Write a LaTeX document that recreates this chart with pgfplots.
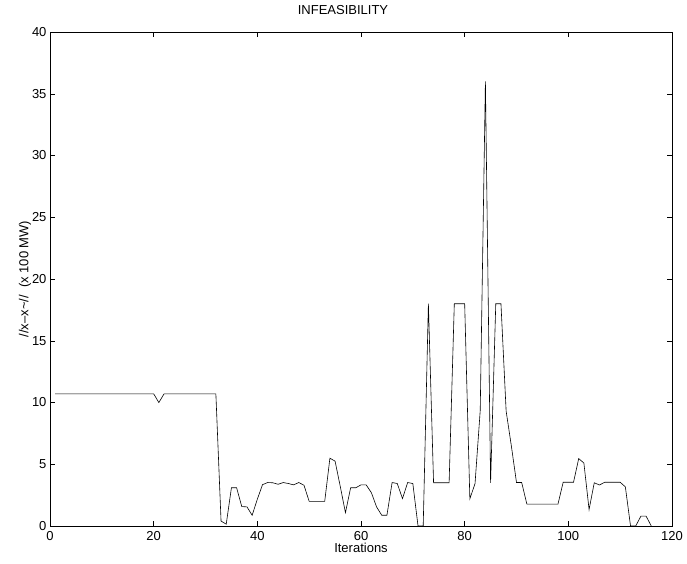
\documentclass[border=0pt]{standalone}
\usepackage{pgfplots}
\pgfplotsset{compat=1.18}
\usepackage{fontspec}
\setmainfont{Liberation Sans}
\begin{document}
\begin{tikzpicture}[x=1pt,y=1pt]
\useasboundingbox (-50,-37) rectangle (637,526);
\begin{axis}[
  at={(0,0)}, anchor=south west,
  scale only axis, width=622pt, height=494pt,
  xmin=0, xmax=120, ymin=0, ymax=40,
  xtick={0,20,...,120}, ytick={0,5,...,40},
  tick align=inside, major tick length=5pt,
  xtick pos=both, ytick pos=both,
  axis line style={line width=0.7pt},
  tick style={line width=0.5pt, black},
  /pgf/number format/assume math mode=true,
  ticklabel style={font=\fontsize{13}{15}\selectfont},
  xticklabel style={yshift=-2pt},
  title={INFEASIBILITY},
  title style={font=\fontsize{13}{15}\selectfont, at={(0.471,1.032)}, anchor=center},
  xlabel={Iterations},
  xlabel style={font=\fontsize{13}{15}\selectfont, at={(0.5,-0.0435)}, anchor=center},
  ylabel={//x--x\textasciitilde//\ \ (x 100 MW)},
  ylabel style={font=\fontsize{13}{15}\selectfont, at={(-0.0402,0.5)}, anchor=center},
]
\addplot[black, line width=0.6pt, mark=none] coordinates {
(1,10.7)(2,10.7)(3,10.7)(4,10.7)(5,10.7)(6,10.7)(7,10.7)(8,10.7)(9,10.7)(10,10.7)
(11,10.7)(12,10.7)(13,10.7)(14,10.7)(15,10.7)(16,10.7)(17,10.7)(18,10.7)(19,10.7)(20,10.7)
(21,10.0)(22,10.7)(23,10.7)(24,10.7)(25,10.7)(26,10.7)(27,10.7)(28,10.7)(29,10.7)(30,10.7)
(31,10.7)(32,10.7)(33,0.4)(34,0.15)(35,3.1)(36,3.1)(37,1.57)(38,1.55)(39,0.87)(40,2.17)
(41,3.35)(42,3.52)(43,3.5)(44,3.38)(45,3.52)(46,3.44)(47,3.33)(48,3.52)(49,3.3)(50,2.0)
(51,2.0)(52,2.0)(53,2.0)(54,5.49)(55,5.25)(56,3.2)(57,1.08)(58,3.1)(59,3.1)(60,3.33)
(61,3.33)(62,2.7)(63,1.55)(64,0.87)(65,0.87)(66,3.52)(67,3.44)(68,2.22)(69,3.52)(70,3.44)
(71,0)(72,0)(73,18)(74,3.5)(75,3.5)(76,3.5)(77,3.5)(78,18)(79,18)(80,18)
(81,2.2)(82,3.44)(83,9.35)(84,36)(85,3.5)(86,18)(87,18)(88,9.3)(89,6.5)(90,3.52)
(91,3.52)(92,1.77)(93,1.77)(94,1.77)(95,1.77)(96,1.77)(97,1.77)(98,1.77)(99,3.54)(100,3.54)
(101,3.54)(102,5.46)(103,5.1)(104,1.33)(105,3.5)(106,3.32)(107,3.54)(108,3.54)(109,3.54)(110,3.54)
(111,3.17)(112,0)(113,0)(114,0.8)(115,0.8)(116,0)
};
\end{axis}
\end{tikzpicture}
\end{document}
